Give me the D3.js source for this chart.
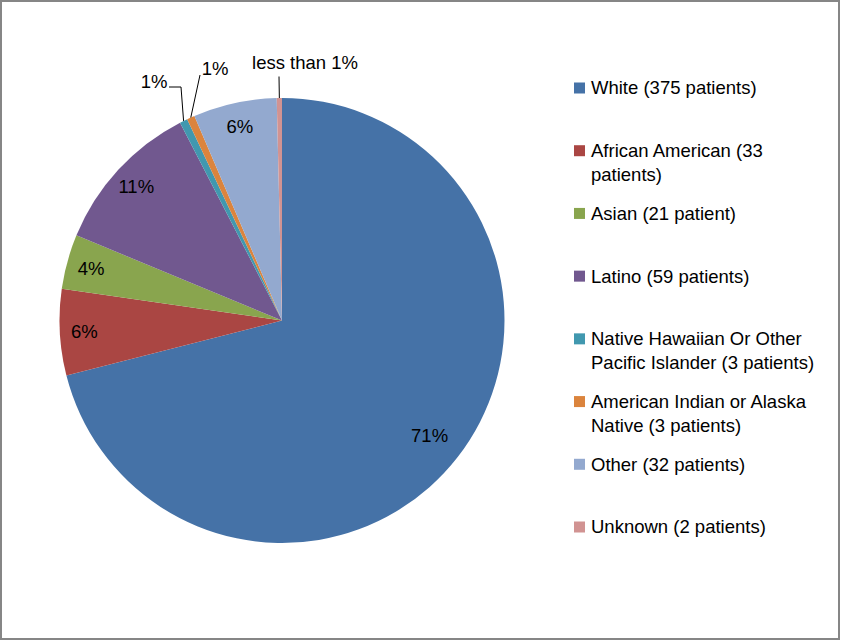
<!doctype html>
<head>
<style>
  body { margin: 0; background: #fff; }
  svg text { font-family: "Liberation Sans", Arial, sans-serif; fill: #000; }
</style>
<script src="https://cdnjs.cloudflare.com/ajax/libs/d3/7.8.5/d3.min.js"></script>
</head>
<body>
<script>
// patients by race / ethnicity
var categories = ["White", "African American", "Asian", "Latino",
  "Native Hawaiian Or Other Pacific Islander", "American Indian or Alaska Native", "Other", "Unknown"];
var patients = [375, 33, 21, 59, 3, 3, 32, 2];
var pctLabels = ["71%", "6%", "4%", "11%", "1%", "1%", "6%", "less than 1%"];
var legendLines = [
  ["White (375 patients)"],
  ["African American (33", "patients)"],
  ["Asian (21 patient)"],
  ["Latino (59 patients)"],
  ["Native Hawaiian Or Other", "Pacific Islander (3 patients)"],
  ["American Indian or Alaska", "Native (3 patients)"],
  ["Other (32 patients)"],
  ["Unknown (2 patients)"]
];
var colors = ["#4572A7", "#AA4643", "#89A54E", "#71588F", "#4198AF", "#DB843D", "#93A9CF", "#D19392"];

var W = 841, H = 641;
var cx = 282, cy = 320.5, r = 222.5;
var fs = "18.5px";

var svg = d3.select("body").append("svg")
  .attr("width", W)
  .attr("height", H);

svg.append("rect")
  .attr("x", 1).attr("y", 1)
  .attr("width", 838).attr("height", 638)
  .attr("fill", "#fff")
  .attr("stroke", "#868686")
  .attr("stroke-width", 2);

var data = categories.map(function(c, i) {
  return {name: c, value: patients[i], label: pctLabels[i], color: colors[i], lines: legendLines[i]};
});

var pie = d3.pie().sort(null).value(function(d) { return d.value; });
var arcs = pie(data);
var arc = d3.arc().innerRadius(0).outerRadius(r);
var labelArc = d3.arc().innerRadius(r * 0.89).outerRadius(r * 0.89);
var bigLabelArc = d3.arc().innerRadius(r * 0.84).outerRadius(r * 0.84);

var g = svg.append("g").attr("transform", "translate(" + cx + "," + cy + ")");

g.selectAll("path.slice")
  .data(arcs).enter()
  .append("path")
    .attr("class", "slice")
    .attr("d", arc)
    .attr("fill", function(d) { return d.data.color; });

// labels inside the slice, small ones get a callout
var total = d3.sum(patients);
var inside = arcs.filter(function(d) { return d.value / total > 0.02; });
var callout = arcs.filter(function(d) { return d.value / total <= 0.02; });

g.selectAll("text.inlbl")
  .data(inside).enter()
  .append("text")
    .attr("class", "inlbl")
    .attr("transform", function(d) {
      var a = d.value > 100 ? bigLabelArc : labelArc;
      return "translate(" + a.centroid(d) + ")";
    })
    .attr("text-anchor", "middle")
    .attr("dy", "0.35em")
    .style("font-size", fs)
    .text(function(d) { return d.data.label; });

// callout text placement (relative to pie centre), leader bends
var calloutPos = [
  {tx: -128, ty: -238.5, elbow: [[-113, -233.5], [-101, -233.5]]},
  {tx: -67, ty: -252, elbow: [[-82, -245.5]]},
  {tx: 23, ty: -258, elbow: [[-3, -244]]}
];

callout.forEach(function(d, i) {
  var p = calloutPos[i];
  var ang = (d.startAngle + d.endAngle) / 2;
  var edge = [r * Math.sin(ang), -r * Math.cos(ang)];
  g.append("path")
    .attr("d", d3.line()(p.elbow.concat([edge])))
    .attr("fill", "none")
    .attr("stroke", "#000")
    .attr("stroke-width", 1);
  g.append("text")
    .attr("x", p.tx).attr("y", p.ty)
    .attr("text-anchor", "middle")
    .attr("dy", "0.35em")
    .style("font-size", fs)
    .text(d.data.label);
});

// legend
var ly = d3.scaleLinear().domain([0, categories.length - 1]).range([88, 527]);
var leg = svg.selectAll("g.leg")
  .data(data).enter()
  .append("g")
    .attr("class", "leg")
    .attr("transform", function(d, i) { return "translate(574," + ly(i) + ")"; });

leg.append("rect")
  .attr("x", 0).attr("y", -5.5)
  .attr("width", 11).attr("height", 11)
  .attr("fill", function(d) { return d.color; });

leg.each(function(d) {
  var t = d3.select(this).append("text")
    .attr("x", 17)
    .style("font-size", fs);
  d.lines.forEach(function(line, j) {
    t.append("tspan")
      .attr("x", 17)
      .attr("y", j * 24)
      .attr("dy", "0.35em")
      .text(line);
  });
});
</script>
</body>
